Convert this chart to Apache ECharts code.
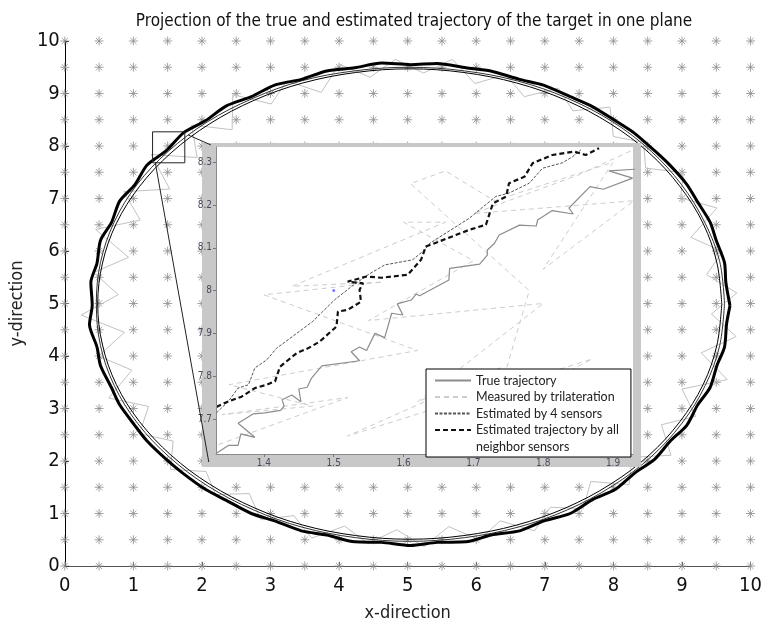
<!DOCTYPE html>
<html>
<head>
<meta charset="utf-8">
<script src="https://cdn.jsdelivr.net/npm/echarts@6/dist/echarts.min.js"></script>
<style>
  html, body { margin: 0; padding: 0; background: #fff; }
  #chart { width: 765px; height: 630px; }
</style>
</head>
<body>
<div id="chart"></div>
<script>
// Sensor lattice (x and y positions of the deployed sensors)
const sensorCoords = [0, 0.5, 1, 1.5, 2, 2.5, 3, 3.5, 4, 4.5, 5, 5.5, 6, 6.5, 7, 7.5, 8, 8.5, 9, 9.5, 10];

// Full trajectory in the plane
const trueTrack = [
  [9.58,4.99],[9.51,5.77],[9.31,6.52],[8.97,7.23],[8.52,7.87],[7.96,8.42],[7.31,8.87],[6.59,9.20],[5.82,9.40],
  [5.03,9.47],[4.24,9.40],[3.47,9.20],[2.76,8.87],[2.11,8.42],[1.55,7.87],[1.09,7.23],[0.75,6.52],[0.55,5.77],
  [0.48,4.99],[0.55,4.21],[0.75,3.46],[1.09,2.75],[1.55,2.11],[2.11,1.56],[2.76,1.11],[3.47,0.78],[4.24,0.58],
  [5.03,0.51],[5.82,0.58],[6.59,0.78],[7.31,1.11],[7.96,1.56],[8.52,2.11],[8.97,2.75],[9.31,3.46],[9.51,4.21],[9.58,4.99]
];
const fourSensorTrack = [
  [9.62,5.00],[9.55,5.80],[9.33,6.55],[8.99,7.27],[8.55,7.90],[7.99,8.46],[7.33,8.91],[6.60,9.24],[5.83,9.43],
  [5.02,9.50],[4.22,9.43],[3.45,9.24],[2.73,8.90],[2.08,8.46],[1.51,7.90],[1.05,7.26],[0.72,6.55],[0.52,5.78],
  [0.46,5.00],[0.52,4.20],[0.72,3.44],[1.06,2.72],[1.52,2.08],[2.09,1.52],[2.75,1.07],[3.46,0.74],[4.24,0.54],
  [5.03,0.47],[5.83,0.54],[6.61,0.74],[7.33,1.07],[7.98,1.52],[8.55,2.08],[9.00,2.72],[9.34,3.44],[9.55,4.20],[9.62,5.00]
];
const neighborTrack = [
  [9.70,4.96],[9.64,5.40],[9.62,5.78],[9.50,6.20],[9.41,6.55],[9.22,6.95],[9.07,7.27],[8.82,7.64],[8.60,7.91],
  [8.30,8.25],[8.03,8.48],[7.68,8.76],[7.37,8.94],[6.98,9.16],[6.63,9.27],[6.21,9.43],[5.85,9.49],[5.43,9.57],
  [5.04,9.55],[4.62,9.58],[4.23,9.49],[3.82,9.43],[3.45,9.27],[3.06,9.16],[2.72,8.94],[2.35,8.76],[2.05,8.48],
  [1.73,8.25],[1.48,7.91],[1.20,7.64],[1.02,7.26],[0.80,6.95],[0.68,6.54],[0.52,6.20],[0.47,5.77],[0.38,5.40],
  [0.40,4.97],[0.36,4.60],[0.47,4.17],[0.52,3.82],[0.68,3.40],[0.80,3.07],[1.02,2.68],[1.20,2.38],[1.48,2.03],
  [1.72,1.77],[2.05,1.46],[2.34,1.26],[2.72,1.00],[3.06,0.86],[3.45,0.67],[3.82,0.59],[4.23,0.46],[4.62,0.45],
  [5.04,0.39],[5.43,0.45],[5.85,0.46],[6.22,0.59],[6.63,0.67],[6.99,0.86],[7.37,1.00],[7.69,1.26],[8.03,1.46],
  [8.31,1.77],[8.60,2.03],[8.83,2.38],[9.07,2.68],[9.23,3.07],[9.41,3.40],[9.51,3.82],[9.62,4.17],[9.65,4.61],[9.70,4.96]
];
const measuredTrack = [
  [9.80,5.20],[9.36,5.55],[9.59,5.99],[9.13,6.26],[9.51,6.82],[8.98,7.01],[9.02,7.49],[8.47,7.58],[8.44,8.07],
  [8.00,8.18],[7.95,8.74],[7.41,8.67],[7.20,9.10],[6.70,8.94],[6.43,9.36],[5.98,9.19],[5.65,9.65],[5.23,9.39],
  [4.82,9.65],[4.45,9.31],[4.00,9.56],[3.74,9.02],[3.24,9.24],[3.01,8.80],[2.45,8.98],[2.44,8.31],[1.85,8.40],
  [1.93,7.78],[1.26,7.84],[1.53,7.18],[0.86,7.13],[1.10,6.59],[0.45,6.41],[0.93,5.88],[0.42,5.59],[0.78,5.17],
  [0.24,4.78],[0.87,4.45],[0.49,4.00],[0.98,3.73],[0.64,3.20],[1.22,3.04],[1.09,2.52],[1.58,2.38],[1.54,1.84],
  [2.06,1.80],[2.20,1.36],[2.69,1.38],[2.86,0.88],[3.34,0.96],[3.60,0.53],[4.08,0.76],[4.42,0.43],[4.84,0.69],
  [5.24,0.37],[5.60,0.75],[6.04,0.50],[6.35,0.86],[6.85,0.67],[7.08,1.12],[7.56,1.09],[7.67,1.61],[8.23,1.55],
  [8.27,2.07],[8.84,2.11],[8.70,2.69],[9.20,2.85],[9.00,3.37],[9.66,3.55],[9.28,4.06],[9.79,4.37],[9.43,4.80],[9.80,5.20]
];
// Zoomed region outline and its two leader lines
const zoomBox = [[1.28,8.27],[1.75,8.27],[1.75,7.68],[1.28,7.68],[1.28,8.27]];
const zoomLinkTop = [[1.80,8.21],[2.13,8.02]];
const zoomLinkBottom = [[1.32,7.68],[2.10,1.98]];

// Zoomed view data
const insetXTicks = [1.4, 1.5, 1.6, 1.7, 1.8, 1.9];
const insetYTicks = [7.7, 7.8, 7.9, 8, 8.1, 8.2, 8.3];
const insetTrue = [
  [1.332,7.620],[1.349,7.638],[1.363,7.638],[1.367,7.665],[1.387,7.657],[1.363,7.690],[1.385,7.712],[1.401,7.714],
  [1.424,7.720],[1.429,7.730],[1.426,7.745],[1.440,7.756],[1.453,7.740],[1.450,7.770],[1.462,7.774],[1.468,7.795],
  [1.483,7.824],[1.537,7.836],[1.525,7.857],[1.537,7.868],[1.547,7.860],[1.559,7.900],[1.573,7.890],[1.583,7.947],
  [1.599,7.943],[1.591,7.969],[1.611,7.978],[1.618,7.992],[1.623,7.988],[1.665,8.025],[1.666,8.052],[1.709,8.062],
  [1.720,8.083],[1.720,8.095],[1.730,8.110],[1.737,8.130],[1.766,8.153],[1.790,8.151],[1.792,8.165],[1.813,8.187],
  [1.843,8.179],[1.837,8.193],[1.867,8.243],[1.886,8.237],[1.928,8.263],[1.894,8.280],[1.935,8.284]
];
const insetMeasured = [
  [1.335,7.64],[1.52,7.75],[1.34,7.71],[1.47,7.73],[1.35,7.78],[1.62,7.86],[1.40,7.99],[1.57,8.02],[1.44,8.01],
  [1.66,8.16],[1.60,8.16],[1.70,8.07],[1.55,7.93],[1.80,7.97],[1.62,7.74],[1.74,7.82],[1.52,7.66],[1.87,7.84],
  [1.73,7.72],[1.78,8.00],[1.61,8.25],[1.66,8.28],[1.73,8.21],[1.90,8.30],[1.80,8.05],[1.93,8.21],[1.70,8.18],
  [1.85,8.27],[1.93,8.33]
];
const insetFour = [
  [1.332,7.714],[1.349,7.741],[1.363,7.772],[1.378,7.780],[1.387,7.819],[1.404,7.838],[1.418,7.865],[1.447,7.900],
  [1.470,7.928],[1.501,7.978],[1.525,8.009],[1.549,8.037],[1.573,8.060],[1.613,8.072],[1.630,8.095],[1.637,8.110],
  [1.694,8.169],[1.732,8.220],[1.751,8.228],[1.780,8.251],[1.799,8.286],[1.828,8.299],[1.842,8.313],[1.854,8.329]
];
const insetNeighbor = [
  [1.332,7.728],[1.349,7.741],[1.368,7.752],[1.387,7.772],[1.404,7.780],[1.416,7.788],[1.423,7.822],[1.447,7.854],
  [1.463,7.865],[1.480,7.881],[1.504,7.916],[1.506,7.951],[1.520,7.955],[1.539,7.974],[1.537,8.002],[1.542,8.017],
  [1.520,8.021],[1.547,8.033],[1.568,8.030],[1.606,8.037],[1.625,8.072],[1.632,8.103],[1.656,8.118],[1.694,8.142],
  [1.718,8.154],[1.728,8.204],[1.747,8.220],[1.751,8.251],[1.773,8.266],[1.785,8.298],[1.813,8.317],[1.844,8.325],
  [1.861,8.317],[1.880,8.333]
];
const insetMarker = [[1.5, 8.0]];
const legendNames = ['True trajectory', 'Measured by trilateration', 'Estimated by 4 sensors', 'Estimated trajectory by all', 'neighbor sensors'];

const narrow = "'Liberation Sans Narrow', 'DejaVu Sans Condensed', 'Liberation Sans', sans-serif";

const sensorPoints = [];
sensorCoords.forEach(x => sensorCoords.forEach(y => sensorPoints.push([x, y])));

const chart = echarts.init(document.getElementById('chart'), null, { renderer: 'canvas' });

const insetSeries = (name, data, color, width, type, z) => ({
  name, type: 'line', data, xAxisIndex: 1, yAxisIndex: 1, zlevel: 2, z: z,
  symbol: 'none', silent: true, animation: false, clip: true,
  itemStyle: { color },
  lineStyle: { color, width, type }
});

chart.setOption({
  animation: false,
  backgroundColor: '#fff',
  title: {
    text: 'Projection of the true and estimated trajectory of the target in one plane',
    left: 409, top: 8, textAlign: 'center',
    textStyle: { fontFamily: narrow, fontSize: 17, fontWeight: 'normal', color: '#111' }
  },
  grid: [
    { left: 60.5, top: 41, width: 692.5, height: 525, show: false },
    { left: 216, top: 147, width: 417, height: 307, show: true, backgroundColor: '#fff', borderWidth: 0, zlevel: 2, z: 1 }
  ],
  xAxis: [
    {
      gridIndex: 0, type: 'value', min: 0, max: 10, interval: 1,
      axisLine: { show: true, onZero: false, lineStyle: { color: '#555', width: 1 } },
      axisTick: { inside: true, length: 4, lineStyle: { color: '#555' } },
      axisLabel: { fontFamily: narrow, fontSize: 20, color: '#111', margin: 10 },
      splitLine: { show: false },
      name: 'x-direction', nameLocation: 'middle', nameGap: 38,
      nameTextStyle: { fontFamily: narrow, fontSize: 18, color: '#222' }
    },
    {
      gridIndex: 1, type: 'value', min: 1.3314, max: 1.9286, zlevel: 2, z: 6,
      axisLine: { show: true, onZero: false, lineStyle: { color: '#8a8a8a', width: 1 } },
      axisTick: { show: true, customValues: insetXTicks, length: 3, lineStyle: { color: '#777' } },
      axisLabel: { customValues: insetXTicks, fontFamily: narrow, fontSize: 10, color: '#4a4a5c', margin: 4 },
      splitLine: { show: false }
    }
  ],
  yAxis: [
    {
      gridIndex: 0, type: 'value', min: 0, max: 10, interval: 1,
      axisLine: { show: true, onZero: false, lineStyle: { color: '#000', width: 1 } },
      axisTick: { inside: true, length: 4, lineStyle: { color: '#000' } },
      axisLabel: { fontFamily: narrow, fontSize: 20, color: '#111', margin: 5 },
      splitLine: { show: false },
      name: 'y-direction', nameLocation: 'middle', nameGap: 33,
      nameTextStyle: { fontFamily: narrow, fontSize: 18, color: '#222' }
    },
    {
      gridIndex: 1, type: 'value', min: 7.618, max: 8.3357, zlevel: 2, z: 6,
      axisLine: { show: true, onZero: false, lineStyle: { color: '#8a8a8a', width: 1 } },
      axisTick: { show: true, customValues: insetYTicks, length: 3, lineStyle: { color: '#777' } },
      axisLabel: { customValues: insetYTicks, fontFamily: narrow, fontSize: 10, color: '#4a4a5c', margin: 4 },
      splitLine: { show: false }
    }
  ],
  graphic: [
    { type: 'rect', zlevel: 1, z: 0, silent: true,
      shape: { x: 202, y: 143, width: 439, height: 324 }, style: { fill: '#c8c8c8' } }
  ],
  legend: {
    zlevel: 2, z: 20, orient: 'vertical', left: 426, top: 369,
    backgroundColor: '#fff', borderColor: '#000', borderWidth: 1,
    padding: [5, 12, 4, 8], itemGap: 3.5, itemWidth: 36, itemHeight: 14,
    selectedMode: false,
    itemStyle: { opacity: 0 },
    textStyle: { fontFamily: "Lato, 'Open Sans', sans-serif", fontSize: 12.5, color: '#222' },
    data: legendNames
  },
  series: [
    {
      type: 'scatter', data: sensorPoints, xAxisIndex: 0, yAxisIndex: 0, z: 1, silent: true,
      symbol: 'path://M5 0 L5 10 M0 5 L10 5 M1.6 1.6 L8.4 8.4 M8.4 1.6 L1.6 8.4',
      symbolSize: 9,
      itemStyle: { color: 'transparent', borderColor: '#8c8c8c', borderWidth: 1 }
    },
    { type: 'line', data: measuredTrack, z: 2, symbol: 'none', silent: true,
      lineStyle: { color: '#c2c2c2', width: 1 } },
    { type: 'line', data: trueTrack, z: 3, symbol: 'none', silent: true, smooth: 0.35,
      lineStyle: { color: '#000', width: 1 } },
    { type: 'line', data: fourSensorTrack, z: 3, symbol: 'none', silent: true, smooth: 0.35,
      lineStyle: { color: '#333', width: 1 } },
    { type: 'line', data: neighborTrack, z: 4, symbol: 'none', silent: true, smooth: 0.25,
      lineStyle: { color: '#000', width: 3 } },
    { type: 'line', data: zoomBox, z: 5, symbol: 'none', silent: true,
      lineStyle: { color: '#222', width: 1 } },
    { type: 'line', data: zoomLinkTop, zlevel: 3, symbol: 'none', silent: true,
      lineStyle: { color: '#222', width: 1 } },
    { type: 'line', data: zoomLinkBottom, zlevel: 3, symbol: 'none', silent: true,
      lineStyle: { color: '#222', width: 1 } },

    insetSeries('Measured by trilateration', insetMeasured, '#cdcdcd', 1, [5, 4], 2),
    insetSeries('True trajectory', insetTrue, '#8c8c8c', 1.2, 'solid', 3),
    insetSeries('Estimated by 4 sensors', insetFour, '#555', 1, [3, 1.5], 4),
    insetSeries('Estimated trajectory by all', insetNeighbor, '#111', 2.2, [5, 3], 5),
    {
      name: 'neighbor sensors', type: 'line', data: [], xAxisIndex: 1, yAxisIndex: 1, zlevel: 2,
      symbol: 'none', lineStyle: { color: 'transparent', opacity: 0 }, itemStyle: { color: 'transparent', opacity: 0 }
    },
    {
      type: 'scatter', data: insetMarker, xAxisIndex: 1, yAxisIndex: 1, zlevel: 2, z: 6, silent: true,
      symbolSize: 3, itemStyle: { color: '#5a5aff' }
    }
  ]
});
</script>
</body>
</html>
